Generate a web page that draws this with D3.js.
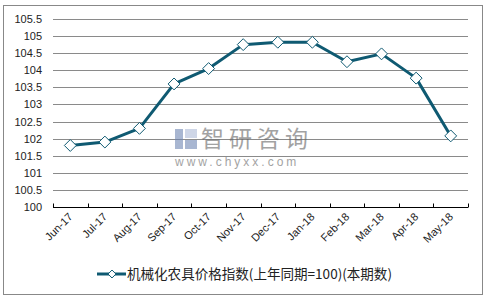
<!DOCTYPE html>
<html>
<head>
<meta charset="utf-8">
<script src="https://cdn.jsdelivr.net/npm/d3@7"></script>
<style>
  body { margin: 0; background: #fff; }
  text { font-family: "Liberation Sans", Arial, sans-serif; }
</style>
</head>
<body>
<svg width="488" height="299"></svg>
<script>
const width = 488;
const height = 299;

// data
const months = ["Jun-17", "Jul-17", "Aug-17", "Sep-17", "Oct-17", "Nov-17",
                "Dec-17", "Jan-18", "Feb-18", "Mar-18", "Apr-18", "May-18"];
const values = [101.8, 101.9, 102.3, 103.6, 104.05, 104.75,
                104.82, 104.82, 104.25, 104.48, 103.77, 102.08];
const yTicks = [100, 100.5, 101, 101.5, 102, 102.5, 103, 103.5, 104, 104.5, 105, 105.5];
const seriesName = "机械化农具价格指数(上年同期=100)(本期数)";

const lineColor = "#0f5a72";
const margin = {left: 53, right: 20, top: 19, bottom: 92};

const svg = d3.select("svg");

// outer frame
svg.append("rect")
  .attr("x", 3.5).attr("y", 5.5)
  .attr("width", 479).attr("height", 289)
  .style("fill", "none")
  .style("stroke", "#888")
  .style("stroke-width", 1);

const x = d3.scaleBand()
  .domain(months)
  .range([margin.left, width - margin.right]);

const y = d3.scaleLinear()
  .domain([100, 105.5])
  .range([height - margin.bottom, margin.top]);

// gridlines
svg.append("g")
  .selectAll("line")
  .data(yTicks.filter(d => d > 100))
  .enter().append("line")
  .attr("x1", margin.left)
  .attr("x2", width - margin.right)
  .attr("y1", d => Math.round(y(d)) + 0.5)
  .attr("y2", d => Math.round(y(d)) + 0.5)
  .style("stroke", "#8a8a8a")
  .style("stroke-width", 1);

// y labels
svg.append("g")
  .selectAll("text")
  .data(yTicks)
  .enter().append("text")
  .attr("x", 42)
  .attr("y", d => y(d) + 4)
  .attr("text-anchor", "end")
  .style("font-size", "11px")
  .style("fill", "#222")
  .text(d => d);

// x axis line + ticks
const xAxisY = Math.round(y(100)) + 0.5;
svg.append("line")
  .attr("x1", margin.left).attr("x2", width - margin.right)
  .attr("y1", xAxisY).attr("y2", xAxisY)
  .style("stroke", "#000").style("stroke-width", 1);

const tickPos = months.map(m => x(m)).concat([width - margin.right]);
svg.append("g")
  .selectAll("line")
  .data(tickPos)
  .enter().append("line")
  .attr("x1", d => Math.round(d) + 0.5)
  .attr("x2", d => Math.round(d) + 0.5)
  .attr("y1", xAxisY)
  .attr("y2", xAxisY - 4)
  .style("stroke", "#000");

// x labels, rotated
svg.append("g")
  .selectAll("text")
  .data(months)
  .enter().append("text")
  .attr("transform", d => `translate(${x(d) + x.bandwidth() / 2 + 3},${xAxisY + 10}) rotate(-45)`)
  .attr("text-anchor", "end")
  .style("font-size", "11px")
  .style("fill", "#222")
  .text(d => d);

// watermark
const wm = svg.append("g").style("opacity", 0.6);
wm.append("rect").attr("x", 175).attr("y", 129).attr("width", 8).attr("height", 20).style("fill", "#6f86b4");
wm.append("rect").attr("x", 185).attr("y", 129).attr("width", 12).attr("height", 9).style("fill", "#aebbd8");
wm.append("rect").attr("x", 185).attr("y", 140).attr("width", 12).attr("height", 9).style("fill", "#6f86b4");
wm.append("text")
  .attr("x", 201).attr("y", 147)
  .style("font-family", "'Noto Sans CJK SC', sans-serif")
  .style("font-size", "23px")
  .style("letter-spacing", "5px")
  .style("fill", "#666")
  .text("智研咨询");
wm.append("text")
  .attr("x", 175).attr("y", 166)
  .style("font-size", "12px")
  .style("letter-spacing", "3px")
  .style("fill", "#666")
  .text("www.chyxx.com");

// series line
const line = d3.line()
  .x((d, i) => x(months[i]) + x.bandwidth() / 2)
  .y(d => y(d));

svg.append("path")
  .datum(values)
  .attr("d", line)
  .style("fill", "none")
  .style("stroke", lineColor)
  .style("stroke-width", 3)
  .style("stroke-linejoin", "round");

const diamond = d3.symbol().type(d3.symbolDiamond2).size(90);
svg.append("g")
  .selectAll("path")
  .data(values)
  .enter().append("path")
  .attr("d", diamond)
  .attr("transform", (d, i) => `translate(${x(months[i]) + x.bandwidth() / 2},${y(d)})`)
  .style("fill", "#fff")
  .style("stroke", lineColor)
  .style("stroke-width", 1);

// legend
const legY = 274;
svg.append("line")
  .attr("x1", 97).attr("x2", 126)
  .attr("y1", legY).attr("y2", legY)
  .style("stroke", lineColor).style("stroke-width", 3);
svg.append("path")
  .attr("d", d3.symbol().type(d3.symbolDiamond2).size(40))
  .attr("transform", `translate(112,${legY})`)
  .style("fill", "#fff")
  .style("stroke", lineColor);
svg.append("text")
  .attr("x", 127).attr("y", legY + 5)
  .attr("textLength", 265)
  .attr("lengthAdjust", "spacingAndGlyphs")
  .style("font-family", "'Noto Sans CJK SC', sans-serif")
  .style("font-size", "13.5px")
  .style("fill", "#222")
  .text(seriesName);
</script>
</body>
</html>
